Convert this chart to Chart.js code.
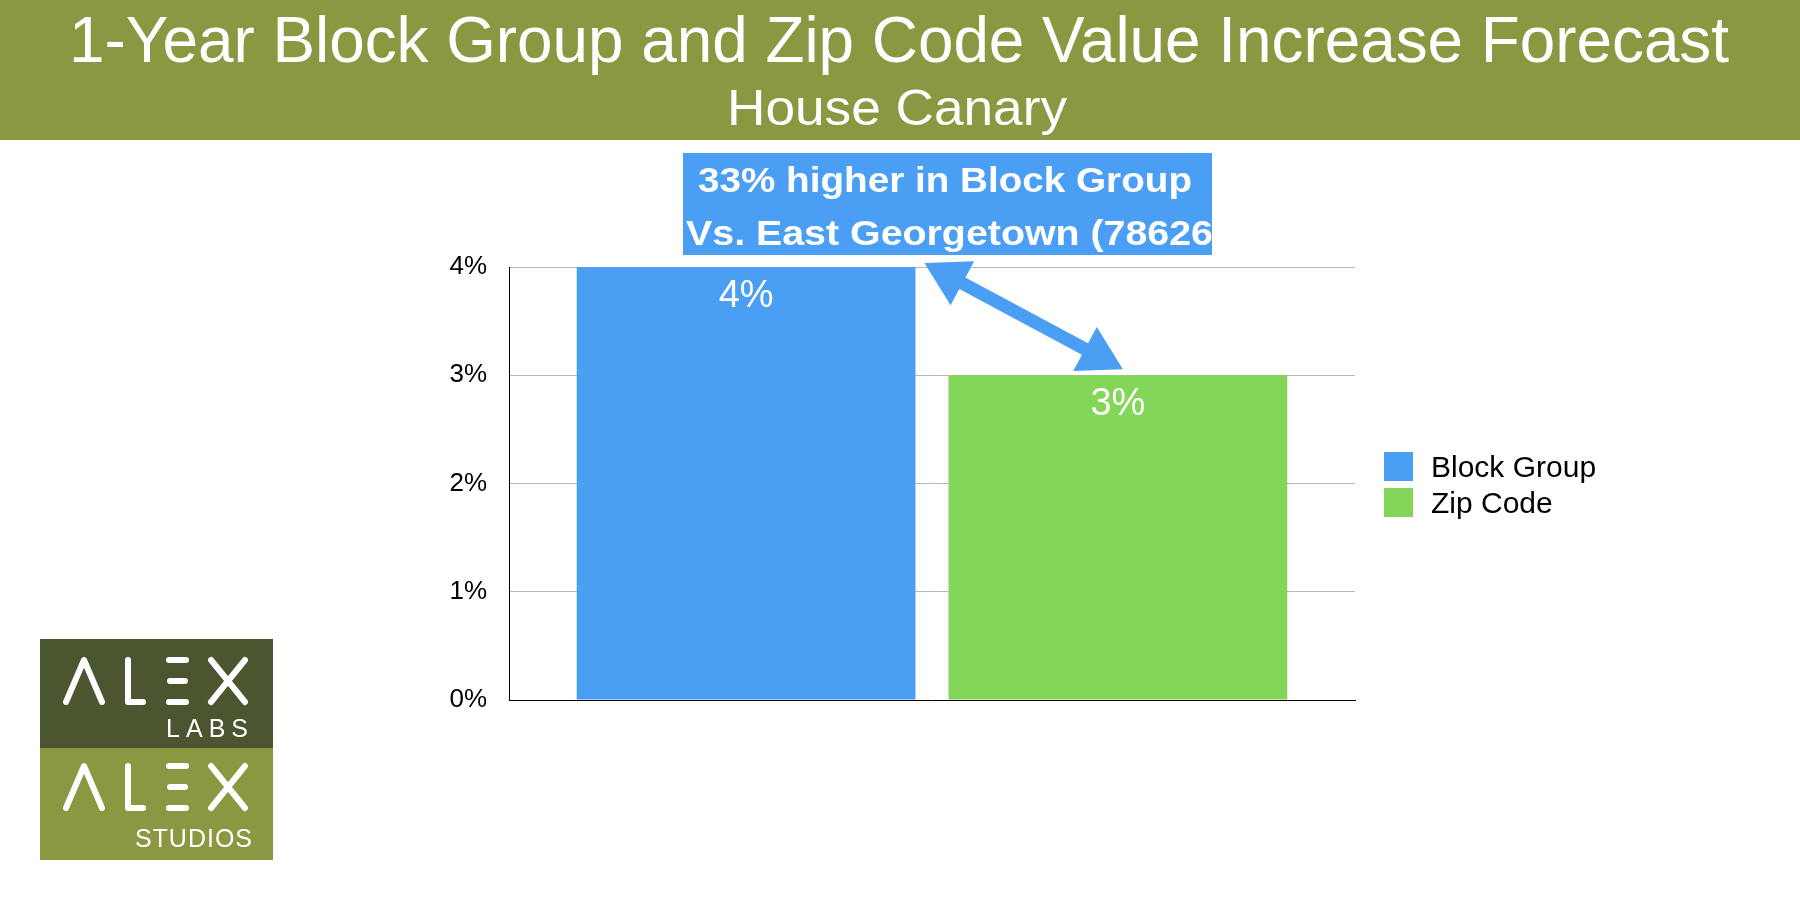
<!DOCTYPE html>
<html>
<head>
<meta charset="utf-8">
<script src="https://cdn.jsdelivr.net/npm/chart.js@4.4.1/dist/chart.umd.min.js"></script>
<style>
  html, body { margin: 0; padding: 0; background: #fff; }
  #wrap { width: 1800px; height: 900px; }
</style>
</head>
<body>
<div id="wrap"><canvas id="myChart" width="1800" height="900"></canvas></div>
<script>
// chart data
var categories = ["1-Year"];
var seriesNames = ["Block Group", "Zip Code"];
var blockGroupValues = [4];
var zipCodeValues = [3];
var yTickValues = [0, 1, 2, 3, 4];

var titleText = "1-Year Block Group and Zip Code Value Increase Forecast";
var subtitleText = "House Canary";
var noteLines = ["33% higher in Block Group", "Vs. East Georgetown (78626)"];

var BLUE = "#4a9ff5";
var GREEN = "#84d658";
var OLIVE = "#8b9741";
var DARK_OLIVE = "#4b552f";
var FONT = "'Liberation Sans', Arial, Helvetica, sans-serif";

// set a font from its cap height and return the x squeeze that gives the wanted width
function fitText(ctx, text, weight, capHeight, targetWidth) {
  var size = capHeight / 0.716;
  ctx.font = weight + " " + size + "px " + FONT;
  return targetWidth / ctx.measureText(text).width;
}

function squeezedText(ctx, text, k, x, y) {
  ctx.save();
  ctx.translate(x, y);
  ctx.scale(k, 1);
  ctx.fillText(text, 0, 0);
  ctx.restore();
}

var headerPlugin = {
  id: "header",
  beforeDraw: function (chart) {
    var ctx = chart.ctx;
    ctx.save();
    ctx.fillStyle = OLIVE;
    ctx.fillRect(0, 0, chart.width, 140);
    ctx.fillStyle = "#fff";
    ctx.textAlign = "center";
    ctx.textBaseline = "alphabetic";
    var k = fitText(ctx, titleText, "normal", 47, 1660);
    squeezedText(ctx, titleText, k, 899, 62);
    k = fitText(ctx, subtitleText, "normal", 36, 340);
    squeezedText(ctx, subtitleText, k, 897, 125);
    ctx.restore();
  }
};

var valueLabels = {
  id: "valueLabels",
  afterDatasetsDraw: function (chart) {
    var ctx = chart.ctx;
    ctx.save();
    ctx.fillStyle = "#fff";
    ctx.font = "normal 38px " + FONT;
    ctx.textAlign = "center";
    chart.data.datasets.forEach(function (ds, i) {
      chart.getDatasetMeta(i).data.forEach(function (bar, j) {
        ctx.fillText(ds.data[j] + "%", bar.x, bar.y + 40);
      });
    });
    ctx.restore();
  }
};

function drawArrow(ctx, p1, p2, shaft, headLen, headHalf) {
  var dx = p2.x - p1.x, dy = p2.y - p1.y;
  var len = Math.sqrt(dx * dx + dy * dy);
  var ux = dx / len, uy = dy / len;
  var nx = -uy, ny = ux;
  var a = { x: p1.x + ux * headLen, y: p1.y + uy * headLen };
  var b = { x: p2.x - ux * headLen, y: p2.y - uy * headLen };
  ctx.beginPath();
  ctx.moveTo(p1.x, p1.y);
  ctx.lineTo(a.x + nx * headHalf, a.y + ny * headHalf);
  ctx.lineTo(a.x + nx * shaft / 2, a.y + ny * shaft / 2);
  ctx.lineTo(b.x + nx * shaft / 2, b.y + ny * shaft / 2);
  ctx.lineTo(b.x + nx * headHalf, b.y + ny * headHalf);
  ctx.lineTo(p2.x, p2.y);
  ctx.lineTo(b.x - nx * headHalf, b.y - ny * headHalf);
  ctx.lineTo(b.x - nx * shaft / 2, b.y - ny * shaft / 2);
  ctx.lineTo(a.x - nx * shaft / 2, a.y - ny * shaft / 2);
  ctx.lineTo(a.x - nx * headHalf, a.y - ny * headHalf);
  ctx.closePath();
  ctx.fill();
}

var notePlugin = {
  id: "note",
  afterDraw: function (chart) {
    var ctx = chart.ctx;
    ctx.save();
    ctx.fillStyle = BLUE;
    ctx.fillRect(683, 153, 529, 102);
    ctx.beginPath();
    ctx.rect(683, 153, 529, 102);
    ctx.clip();
    ctx.fillStyle = "#fff";
    ctx.textAlign = "left";
    var k = fitText(ctx, noteLines[0], "bold", 25, 494);
    squeezedText(ctx, noteLines[0], k, 698, 192);
    // second line runs past the box edge; the visible part ends at the box edge
    var visible = noteLines[1].slice(0, -1);
    k = fitText(ctx, visible, "bold", 25, 527);
    squeezedText(ctx, noteLines[1], k, 686, 245);
    ctx.restore();

    // double arrow between the bar tops
    var b1 = chart.getDatasetMeta(0).data[0];
    var b2 = chart.getDatasetMeta(1).data[0];
    ctx.save();
    ctx.fillStyle = BLUE;
    drawArrow(ctx, { x: b1.x + b1.width / 2 + 9, y: b1.y - 4 }, { x: b2.x + 5, y: b2.y - 6 }, 13, 43, 25);
    ctx.restore();
  }
};

var legendPlugin = {
  id: "sideLegend",
  afterDraw: function (chart) {
    var ctx = chart.ctx;
    ctx.save();
    ctx.font = "normal 30px " + FONT;
    ctx.textAlign = "left";
    chart.data.datasets.forEach(function (ds, i) {
      var top = 452 + i * 36;
      ctx.fillStyle = ds.backgroundColor;
      ctx.fillRect(1384, top, 29, 29);
      ctx.fillStyle = "#000";
      ctx.fillText(ds.label, 1431, top + 25);
    });
    ctx.restore();
  }
};

function drawAlex(ctx, top) {
  var y0 = top + 3, y1 = top + 45, ym = (y0 + y1) / 2;
  ctx.beginPath();
  ctx.moveTo(66, y1); ctx.lineTo(84, y0); ctx.lineTo(102, y1);
  ctx.moveTo(128, y0); ctx.lineTo(128, y1); ctx.lineTo(143, y1);
  ctx.moveTo(169, y0); ctx.lineTo(186, y0);
  ctx.moveTo(170, ym); ctx.lineTo(185, ym);
  ctx.moveTo(169, y1); ctx.lineTo(186, y1);
  ctx.moveTo(211, y0); ctx.lineTo(245, y1);
  ctx.moveTo(245, y0); ctx.lineTo(211, y1);
  ctx.stroke();
}

var logoPlugin = {
  id: "logo",
  afterDraw: function (chart) {
    var ctx = chart.ctx;
    ctx.save();
    ctx.fillStyle = DARK_OLIVE;
    ctx.fillRect(40, 639, 233, 109);
    ctx.fillStyle = OLIVE;
    ctx.fillRect(40, 748, 233, 112);
    ctx.strokeStyle = "#fff";
    ctx.lineWidth = 6;
    ctx.lineCap = "round";
    ctx.lineJoin = "round";
    drawAlex(ctx, 657);
    drawAlex(ctx, 763);
    ctx.fillStyle = "#fff";
    ctx.font = "normal 25px " + FONT;
    ctx.textAlign = "right";
    ctx.letterSpacing = "6px";
    ctx.fillText("LABS", 254, 737);
    ctx.letterSpacing = "1px";
    ctx.fillText("STUDIOS", 253, 847);
    ctx.restore();
  }
};

var ctx = document.getElementById("myChart").getContext("2d");
var chart = new Chart(ctx, {
  type: "bar",
  data: {
    labels: categories,
    datasets: [
      {
        label: seriesNames[0],
        backgroundColor: BLUE,
        data: blockGroupValues
      },
      {
        label: seriesNames[1],
        backgroundColor: GREEN,
        data: zipCodeValues
      }
    ]
  },
  options: {
    responsive: false,
    animation: false,
    devicePixelRatio: 1,
    categoryPercentage: 0.879,
    barPercentage: 0.911,
    layout: { padding: { left: 419, right: 445, top: 267, bottom: 200 } },
    plugins: {
      legend: { display: false },
      title: { display: false },
      tooltip: { enabled: false }
    },
    scales: {
      x: {
        grid: { display: false, drawTicks: false },
        border: { display: true, color: "#000", width: 1 },
        ticks: { display: false },
        afterFit: function (scale) { scale.height = 0; }
      },
      y: {
        min: yTickValues[0],
        max: yTickValues[yTickValues.length - 1],
        afterBuildTicks: function (scale) {
          scale.ticks = yTickValues.map(function (v) { return { value: v }; });
        },
        grid: {
          drawTicks: false,
          color: function (c) { return c.tick && c.tick.value === 0 ? "rgba(0,0,0,0)" : "#b8b8b8"; }
        },
        border: { display: true, color: "#000", width: 1 },
        ticks: {
          padding: 22,
          color: "#000",
          font: { family: FONT, size: 26 },
          callback: function (v) { return v + "%"; }
        },
        afterFit: function (scale) { scale.width = 90; }
      }
    }
  },
  plugins: [headerPlugin, valueLabels, notePlugin, legendPlugin, logoPlugin]
});
</script>
</body>
</html>
